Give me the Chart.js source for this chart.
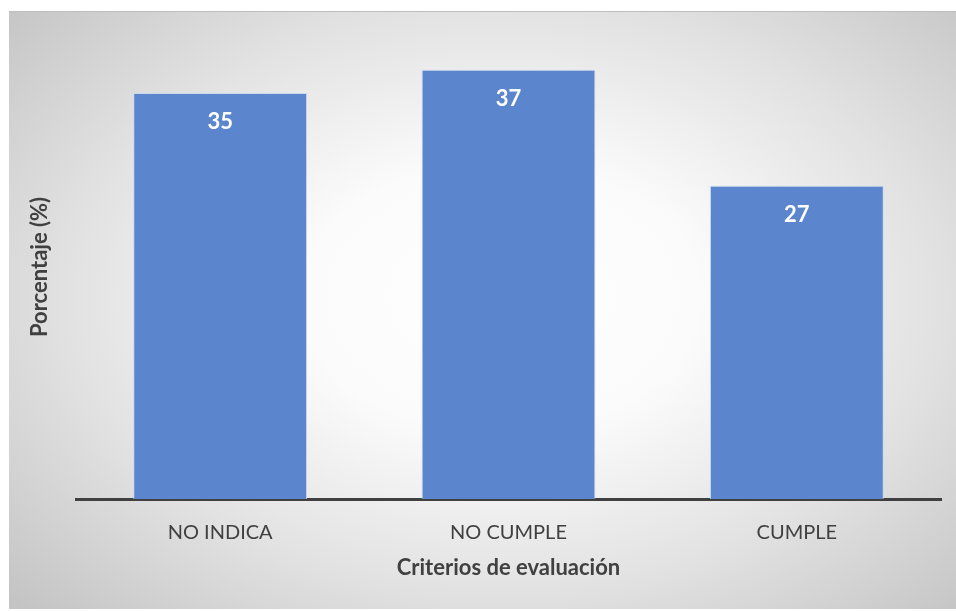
<!DOCTYPE html>
<html>
<head>
<meta charset="utf-8">
<script src="https://cdn.jsdelivr.net/npm/chart.js@4/dist/chart.umd.min.js"></script>
<style>
  html, body { margin: 0; padding: 0; background: #fff; }
  #wrap { position: relative; width: 956px; height: 611px; }
  #bg {
    position: absolute; left: 9px; top: 11px; width: 947px; height: 597px;
    background: radial-gradient(ellipse 70% 75% at 52% 48%, #ffffff 0%, #fbfbfb 30%, #e2e2e2 65%, #c4c4c4 100%);
    border-top: 1px solid #bdbdbd;
  }
  #myChart { position: absolute; left: 0; top: 0; }
</style>
</head>
<body>
<div id="wrap">
  <div id="bg"></div>
  <canvas id="myChart" width="956" height="611"></canvas>
</div>
<script>
// Set up
  const labels = ['NO INDICA', 'NO CUMPLE', 'CUMPLE'];
  const valores = [35, 37, 27];
  const yMax = 40;

  const fontFam = 'Lato, "Open Sans", sans-serif';
  const grey = '#404040';

  // white value labels inside the bars
  const barLabels = {
    id: 'barLabels',
    afterDatasetsDraw(chart) {
      const ctx = chart.ctx;
      const meta = chart.getDatasetMeta(0);
      ctx.save();
      ctx.fillStyle = '#ffffff';
      ctx.font = 'bold 22px ' + fontFam;
      ctx.textAlign = 'center';
      ctx.textBaseline = 'middle';
      meta.data.forEach((bar, i) => {
        ctx.fillText(String(valores[i]), bar.x, bar.y + 29);
      });
      ctx.restore();
    }
  };

  const data = {
    labels: labels,
    datasets: [{
      label: 'Porcentaje',
      backgroundColor: '#5b85cd',
      borderColor: 'rgba(200,215,240,0.9)',
      borderWidth: 1,
      data: valores,
      categoryPercentage: 1,
      barPercentage: 0.603
    }]
  };

  const config = {
    type: 'bar',
    data: data,
    options: {
      responsive: false,
      animation: false,
      layout: { padding: { top: 35, right: 15, left: 0, bottom: 0 } },
      plugins: {
        legend: { display: false },
        tooltip: { enabled: false }
      },
      scales: {
        x: {
          grid: { display: false },
          border: { display: true, color: grey, width: 3 },
          ticks: { color: grey, font: { family: fontFam, size: 20 }, padding: 14 },
          title: {
            display: true,
            text: 'Criterios de evaluación',
            color: grey,
            font: { family: fontFam, size: 22, weight: 'bold' },
            padding: { top: 10, bottom: 30 }
          },
          afterFit(scale) { scale.height = 112; }
        },
        y: {
          min: 0,
          max: yMax,
          grid: { display: false },
          border: { display: false },
          ticks: { display: false },
          title: {
            display: true,
            text: 'Porcentaje (%)',
            color: grey,
            font: { family: fontFam, size: 22, weight: 'bold' },
            padding: { top: 27, bottom: 0 }
          },
          afterFit(scale) { scale.width = 76; }
        }
      }
    },
    plugins: [barLabels]
  };

// Config
  const myChart = new Chart(
    document.getElementById('myChart'),
    config
  );
</script>
</body>
</html>
